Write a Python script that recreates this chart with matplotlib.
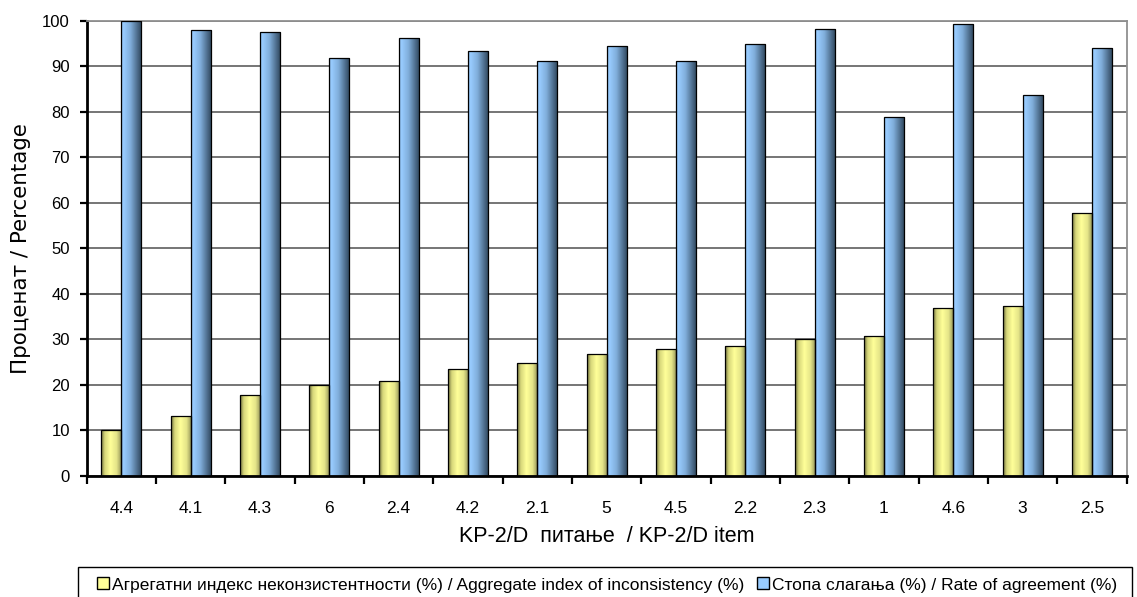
import matplotlib
matplotlib.use("Agg")
import matplotlib.pyplot as plt
import numpy as np
from matplotlib.colors import LinearSegmentedColormap
from matplotlib.patches import Patch, Rectangle

items = ["4.4", "4.1", "4.3", "6", "2.4", "4.2", "2.1", "5", "4.5", "2.2", "2.3", "1", "4.6", "3", "2.5"]
inconsistency = [10.0, 13.1, 17.9, 20.0, 20.9, 23.5, 24.9, 26.8, 27.8, 28.5, 30.0, 30.7, 36.8, 37.3, 57.7]
agreement = [100.0, 98.0, 97.5, 91.8, 96.2, 93.4, 91.1, 94.4, 91.2, 94.8, 98.1, 78.9, 99.3, 83.8, 94.1]

label_incons = "Агрегатни индекс неконзистентности (%) / Aggregate index of inconsistency (%)"
label_agree = "Стопа слагања (%) / Rate of agreement (%)"

plt.rcParams["font.family"] = ["Liberation Sans", "DejaVu Sans"]

yellow_cmap = LinearSegmentedColormap.from_list(
    "yel", [(0, "#6e6e3c"), (0.18, "#d6d67a"), (0.45, "#ffff99"), (0.75, "#e4e488"), (1, "#8c8c55")])
blue_cmap = LinearSegmentedColormap.from_list(
    "blu", [(0, "#8ab8e6"), (0.12, "#99ccff"), (0.45, "#80aedb"), (1, "#2c4258")])


def shade_bars(ax, bars, cmap):
    grad = np.linspace(0, 1, 256).reshape(1, -1)
    for b in bars:
        x0, y0 = b.get_xy()
        im = ax.imshow(grad, cmap=cmap, aspect="auto", zorder=2.5,
                       extent=(x0, x0 + b.get_width(), y0, y0 + b.get_height()))
        im.set_clip_path(b)


fig = plt.figure(figsize=(11.37, 5.97), dpi=100)
ax = fig.add_axes([0.0762, 0.2027, 0.9147, 0.7625])

x = np.arange(len(items))
w = 0.29
bars_y = ax.bar(x - w / 2, inconsistency, w, color="#ffff99", zorder=2)
bars_b = ax.bar(x + w / 2, agreement, w, color="#99ccff", zorder=2)
shade_bars(ax, bars_y, yellow_cmap)
shade_bars(ax, bars_b, blue_cmap)
ax.bar(x - w / 2, inconsistency, w, facecolor="none", edgecolor="black", linewidth=0.9, zorder=3)
ax.bar(x + w / 2, agreement, w, facecolor="none", edgecolor="black", linewidth=0.9, zorder=3)

ax.set_xlim(-0.5, len(items) - 0.5)
ax.set_ylim(0, 100)
ax.set_yticks(np.arange(0, 101, 10))
ax.yaxis.grid(True, color="#6a6a6a", linewidth=1.3)
ax.set_axisbelow(True)

ax.set_xticks(x)
ax.set_xticklabels(items, fontsize=12.5)
ax.set_xticks(np.arange(-0.5, len(items)), minor=True)
ax.tick_params(axis="x", which="major", length=0, pad=18)
ax.tick_params(axis="x", which="minor", length=6, width=1.6, color="black")
ax.tick_params(axis="y", length=5, width=1.6, labelsize=12, pad=7)

for s in ["left", "bottom"]:
    ax.spines[s].set_linewidth(2)
    ax.spines[s].set_color("black")
for s in ["top", "right"]:
    ax.spines[s].set_color("#909090")
    ax.spines[s].set_linewidth(1.3)

ax.set_xlabel("KP-2/D  питање  / KP-2/D item", fontsize=15.5, va="center")
ax.xaxis.set_label_coords(0.5, -0.134)
ax.set_ylabel("Проценат / Percentage", fontsize=15.4, family=["DejaVu Sans"], va="center")
ax.yaxis.set_label_coords(-0.063, 0.5)

handles = [Patch(facecolor="#ffff99", edgecolor="black", label=label_incons),
           Patch(facecolor="#99ccff", edgecolor="black", label=label_agree)]
fig.legend(handles=handles, loc="center left", bbox_to_anchor=(0.0855, 1 - 585 / 597),
           ncol=2, fontsize=12.5, frameon=False, handlelength=0.69, handleheight=0.69,
           handletextpad=0.18, columnspacing=0.7, borderaxespad=0.0, borderpad=0.0)
fig.add_artist(Rectangle((0.0686, -0.01), 0.927, 0.0603, transform=fig.transFigure,
                         fill=False, edgecolor="black", linewidth=1.0, clip_on=False))

fig.savefig("out.png", dpi=100)
